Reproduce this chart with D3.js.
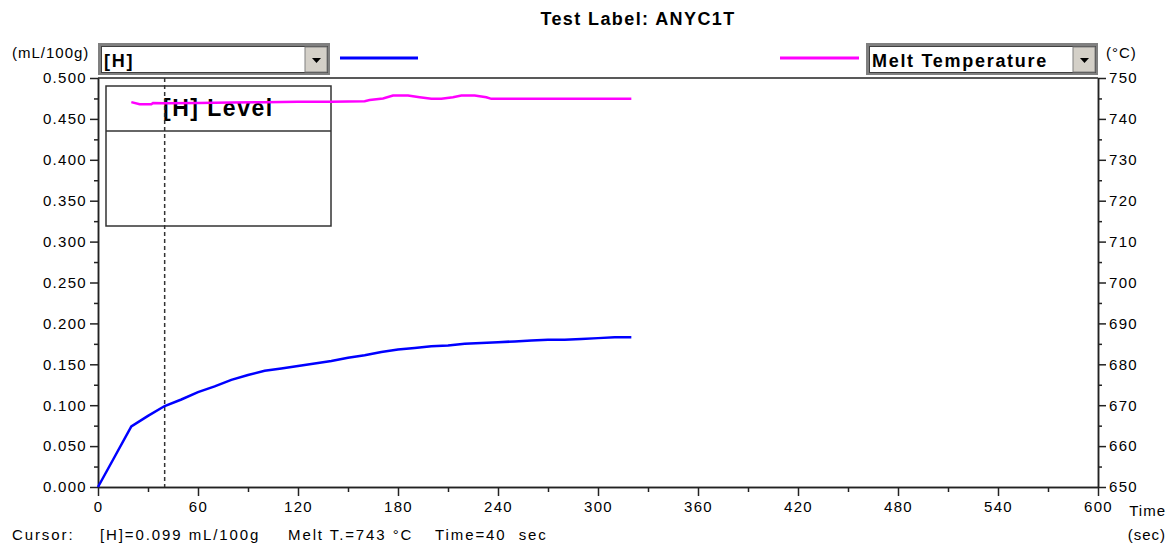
<!DOCTYPE html>
<html lang="en">
<meta charset="utf-8">
<title>Test Label: ANYC1T</title>
<style>
  body { margin: 0; background: #fff; }
  text { font-family: "Liberation Sans", Arial, sans-serif; fill: #000; white-space: pre; }
  .tick text { font-size: 15px; letter-spacing: 1.3px; }
  .lbl { font-size: 15px; letter-spacing: 1px; }
  .cur { letter-spacing: 1.9px; }
</style>
<body>
<script src="https://d3js.org/d3.v7.min.js"></script>
<script>
  // hydrogen level (mL/100g) vs time (sec)
  var hTime = [0, 10, 20, 30, 40, 50, 60, 70, 80, 90, 100, 110, 120, 130, 140, 150, 160, 170, 180, 190, 200, 210, 220, 230, 240, 250, 260, 270, 280, 290, 300, 310, 320];
  var hLevel = [0, 0.037, 0.074, 0.087, 0.099, 0.107, 0.116, 0.123, 0.131, 0.137, 0.142, 0.145, 0.148, 0.151, 0.154, 0.158, 0.161, 0.165, 0.168, 0.170, 0.172, 0.173, 0.175, 0.176, 0.177, 0.178, 0.179, 0.180, 0.180, 0.181, 0.182, 0.183, 0.183];

  // melt temperature (°C) vs time (sec)
  var tTime = [20, 25, 32, 33, 40, 60, 80, 100, 120, 140, 160, 163, 171, 177, 186, 193, 200, 206, 213, 218, 226, 233, 236, 320];
  var meltTemp = [744.1, 743.6, 743.6, 743.9, 743.8, 743.9, 744.0, 744.1, 744.2, 744.2, 744.3, 744.6, 745.0, 745.7, 745.7, 745.3, 744.9, 744.9, 745.3, 745.7, 745.7, 745.3, 744.9, 744.9];

  var xTicks = d3.range(0, 601, 60);
  var xMinor = d3.range(30, 600, 60);
  var leftTicks = d3.range(0, 0.5001, 0.05);
  var leftMinor = d3.range(0.025, 0.5, 0.05);
  var rightTicks = d3.range(650, 751, 10);
  var rightMinor = d3.range(655, 750, 10);

  var title = "Test Label: ANYC1T";
  var cursorTime = 40;
  var cursorTexts = [["Cursor:", 12], ["[H]=0.099 mL/100g", 100], ["Melt T.=743 \u00b0C", 288], ["Time=40  sec", 435]];

  var width = 1174, height = 546;
  var plotL = 98, plotR = 1098, plotT = 78, plotB = 487;

  var x = d3.scaleLinear().domain([0, 600]).range([plotL, plotR]);
  var yL = d3.scaleLinear().domain([0, 0.5]).range([plotB, plotT]);
  var yR = d3.scaleLinear().domain([650, 750]).range([plotB, plotT]);

  var svg = d3.select("body").append("svg")
    .attr("width", width)
    .attr("height", height);

  // title
  svg.append("text")
    .attr("x", 638).attr("y", 25)
    .attr("text-anchor", "middle")
    .style("font-size", "18px").style("font-weight", "bold").style("letter-spacing", "1.4px")
    .text(title);

  // unit labels
  svg.append("text").attr("class", "lbl").attr("x", 12).attr("y", 58).text("(mL/100g)");
  svg.append("text").attr("class", "lbl").attr("x", 1106).attr("y", 58).text("(\u00b0C)");

  // combo boxes
  function combo(x0, label) {
    var g = svg.append("g");
    g.append("rect").attr("x", x0 + 1.5).attr("y", 44.5).attr("width", 229).attr("height", 29)
      .attr("fill", "#fff").attr("stroke", "#808080").attr("stroke-width", 3);
    g.append("rect").attr("x", x0 + 3.5).attr("y", 46.5).attr("width", 226).attr("height", 26)
      .attr("fill", "none").attr("stroke", "#404040").attr("stroke-width", 1);
    g.append("rect").attr("x", x0 + 207).attr("y", 47).attr("width", 22).attr("height", 25)
      .attr("fill", "#d4d0c8").attr("stroke", "#808080").attr("stroke-width", 1);
    g.append("path").attr("d", "M" + (x0 + 214) + ",58 h9 l-4.5,5 z").attr("fill", "#000");
    g.append("text").attr("x", x0 + 6).attr("y", 67)
      .style("font-size", "18px").style("font-weight", "bold").style("letter-spacing", "1.7px")
      .text(label);
  }
  combo(98, "[H]");
  combo(866, "Melt Temperature");

  // legend swatches
  svg.append("line").attr("x1", 340).attr("x2", 418).attr("y1", 58).attr("y2", 58)
    .attr("stroke", "#0000ff").attr("stroke-width", 3);
  svg.append("line").attr("x1", 780).attr("x2", 859).attr("y1", 58).attr("y2", 58)
    .attr("stroke", "#ff00ff").attr("stroke-width", 3);

  // frame top
  svg.append("line").attr("x1", plotL).attr("x2", plotR).attr("y1", plotT).attr("y2", plotT)
    .attr("stroke", "#222").attr("stroke-width", 1.5);

  // axes
  function styleAxis(g) {
    g.selectAll("path, line").attr("stroke", "#222").attr("stroke-width", 1.5);
  }
  svg.append("g").attr("transform", "translate(" + plotL + ",0)")
    .call(d3.axisLeft(yL).tickValues(leftTicks).tickFormat(d3.format(".3f")).tickSize(8).tickSizeOuter(0).tickPadding(3))
    .call(styleAxis);
  svg.append("g").attr("transform", "translate(" + plotL + ",0)")
    .call(d3.axisLeft(yL).tickValues(leftMinor).tickFormat("").tickSize(4).tickSizeOuter(0))
    .call(styleAxis);
  svg.append("g").attr("transform", "translate(" + plotR + ",0)")
    .call(d3.axisRight(yR).tickValues(rightTicks).tickSize(8).tickSizeOuter(0).tickPadding(3))
    .call(styleAxis);
  svg.append("g").attr("transform", "translate(" + plotR + ",0)")
    .call(d3.axisRight(yR).tickValues(rightMinor).tickFormat("").tickSize(4).tickSizeOuter(0))
    .call(styleAxis);
  svg.append("g").attr("transform", "translate(0," + plotB + ")")
    .call(d3.axisBottom(x).tickValues(xTicks).tickSize(9).tickSizeOuter(0).tickPadding(5))
    .call(styleAxis);
  svg.append("g").attr("transform", "translate(0," + plotB + ")")
    .call(d3.axisBottom(x).tickValues(xMinor).tickFormat("").tickSize(5).tickSizeOuter(0))
    .call(styleAxis);
  svg.selectAll(".tick text").attr("fill", "#000");

  svg.append("text").attr("class", "lbl").attr("x", 1166).attr("y", 516).attr("text-anchor", "end").text("Time");
  svg.append("text").attr("class", "lbl").attr("x", 1166).attr("y", 540).attr("text-anchor", "end").text("(sec)");

  // legend box inside plot
  svg.append("rect").attr("x", 106).attr("y", 86).attr("width", 225).attr("height", 140)
    .attr("fill", "#fff").attr("stroke", "#333").attr("stroke-width", 1.5);
  svg.append("line").attr("x1", 106).attr("x2", 331).attr("y1", 131).attr("y2", 131)
    .attr("stroke", "#333").attr("stroke-width", 1.5);
  svg.append("text").attr("x", 163).attr("y", 116)
    .style("font-size", "23px").style("font-weight", "bold").style("letter-spacing", "1.5px")
    .text("[H] Level");

  // cursor
  svg.append("line")
    .attr("x1", x(cursorTime)).attr("x2", x(cursorTime))
    .attr("y1", plotT).attr("y2", plotB)
    .attr("stroke", "#333").attr("stroke-width", 1.5).attr("stroke-dasharray", "4,3");

  // series
  var hData = hTime.map(function(t, i) { return [t, hLevel[i]]; });
  var tData = tTime.map(function(t, i) { return [t, meltTemp[i]]; });

  svg.append("path").datum(tData)
    .attr("fill", "none").attr("stroke", "#ff00ff").attr("stroke-width", 2.5)
    .attr("d", d3.line().x(function(d) { return x(d[0]); }).y(function(d) { return yR(d[1]); }));

  svg.append("path").datum(hData)
    .attr("fill", "none").attr("stroke", "#0000ff").attr("stroke-width", 2.5)
    .attr("d", d3.line().x(function(d) { return x(d[0]); }).y(function(d) { return yL(d[1]); }));

  // cursor readout
  svg.selectAll(".cur").data(cursorTexts).enter().append("text")
    .attr("class", "lbl cur")
    .attr("x", function(d) { return d[1]; }).attr("y", 540)
    .text(function(d) { return d[0]; });
</script>
</body>
</html>
